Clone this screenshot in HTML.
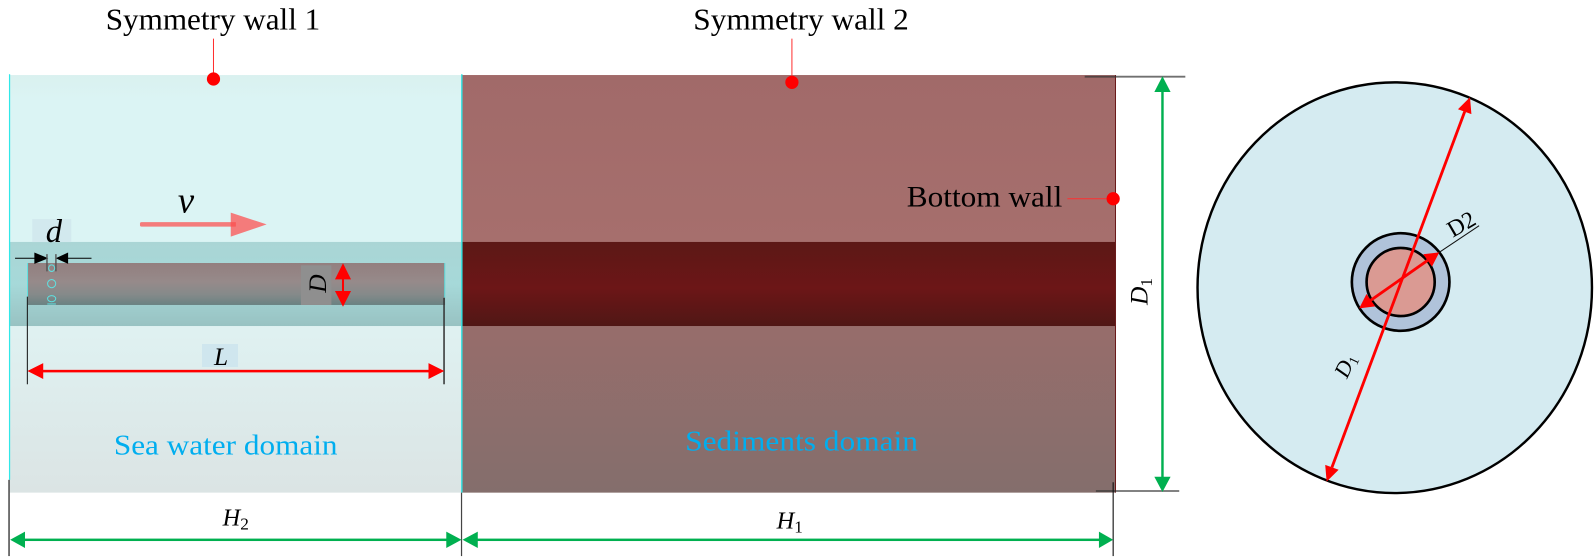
<!DOCTYPE html>
<html><head><meta charset="utf-8"><style>
html,body{margin:0;padding:0;background:#fff;width:1594px;height:557px;overflow:hidden}
svg{display:block;font-family:"Liberation Serif",serif}
</style></head><body>
<svg width="1594" height="557" viewBox="0 0 1568 547.9" xmlns="http://www.w3.org/2000/svg">
<defs>
<linearGradient id="sea" x1="0" y1="0" x2="0" y2="1"><stop offset="0" stop-color="#daf1ef"/><stop offset=".06" stop-color="#dbf4f4"/><stop offset=".4" stop-color="#dbf4f4"/><stop offset=".62" stop-color="#dff1f1"/><stop offset="1" stop-color="#dbe4e4"/></linearGradient>
<linearGradient id="seab" x1="0" y1="0" x2="0" y2="1"><stop offset="0" stop-color="#aad5d5"/><stop offset=".5" stop-color="#a6d9d9"/><stop offset="1" stop-color="#98c2c2"/></linearGradient>
<linearGradient id="pipe" x1="0" y1="0" x2="0" y2="1"><stop offset="0" stop-color="#937f7f"/><stop offset=".45" stop-color="#968a8a"/><stop offset=".75" stop-color="#858a8a"/><stop offset="1" stop-color="#6a8282"/></linearGradient>
<linearGradient id="sed" x1="0" y1="0" x2="0" y2="1"><stop offset="0" stop-color="#a16a69"/><stop offset=".4" stop-color="#a66f6d"/><stop offset=".6" stop-color="#976d6b"/><stop offset="1" stop-color="#846e6c"/></linearGradient>
<linearGradient id="core" x1="0" y1="0" x2="0" y2="1"><stop offset="0" stop-color="#5c1816"/><stop offset=".55" stop-color="#6c1617"/><stop offset="1" stop-color="#501715"/></linearGradient>
</defs>

<!-- sea water domain -->
<rect x="9.500" y="73.800" width="444.700" height="410.800" fill="url(#sea)"/>
<rect x="9.500" y="238" width="444.700" height="82.700" fill="url(#seab)"/>
<rect x="27.500" y="258.700" width="410.300" height="41.300" fill="url(#pipe)"/>
<rect x="8.800" y="73" width="1.200" height="399" fill="#30e8e8"/>
<rect x="26.600" y="258.700" width="1" height="33" fill="#5fe0e0"/>
<rect x="437" y="258.700" width="1" height="34" fill="#5fe0e0"/>

<!-- sediments domain -->
<rect x="454.500" y="73.800" width="642.800" height="410.800" fill="url(#sed)"/>
<rect x="454.500" y="238" width="642.800" height="82.700" fill="url(#core)"/>
<rect x="453.600" y="73" width="1.400" height="411.600" fill="#30e0e0"/>
<rect x="1096.800" y="73.800" width="1" height="410.800" fill="#6b1a1a"/>

<!-- extension lines -->
<path d="M1067 75.400H1166" stroke="#333" stroke-opacity=".7" stroke-width="1.800" fill="none"/>
<path d="M1078 483H1160" stroke="#333" stroke-opacity=".7" stroke-width="1.800" fill="none"/>
<path d="M8.900 472V547" stroke="#555" stroke-width="1.600" fill="none"/>
<path d="M454 484.600V547" stroke="#444" stroke-width="1.200" fill="none"/>
<path d="M1095 474.400V547" stroke="#111" stroke-width="1.100" fill="none"/>
<path d="M26.900 291.800V378" stroke="#111" stroke-width="1" fill="none"/>
<path d="M436.800 293V378" stroke="#333" stroke-width="1.500" fill="none"/>

<!-- green dimension arrows -->
<g fill="#00b050">
<rect x="1142.300" y="88" width="2.400" height="383"/>
<path d="M1143.500 75L1151.500 90.500H1135.500Z"/>
<path d="M1143.500 484L1135.500 469H1151.500Z"/>
<rect x="22" y="529.800" width="420" height="2.400"/>
<path d="M10 531L24.600 523V539Z"/>
<path d="M454 531L439 523V539Z"/>
<rect x="468" y="529.800" width="614" height="2.400"/>
<path d="M455 531L470 523V539Z"/>
<path d="M1095 531L1081 523V539Z"/>
</g>

<!-- label patches -->
<rect x="31.700" y="215.500" width="38.400" height="22.600" fill="#d2e9ee"/>
<rect x="296" y="261" width="30" height="39" fill="#8f8f8f"/>
<rect x="198.700" y="338.400" width="35.400" height="22.600" fill="#cfe6ee"/>

<!-- red dimension arrows -->
<g fill="#ff0000">
<rect x="38" y="363.800" width="388" height="2.500"/>
<path d="M27 365L42.500 357.200V372.800Z"/>
<path d="M437 365L421.500 357.200V372.800Z"/>
<rect x="336.400" y="270" width="2" height="20"/>
<path d="M337.400 259L345.300 274.800H329.500Z"/>
<path d="M337.400 301.700L329.500 286.300H345.300Z"/>
</g>

<!-- d marker -->
<path d="M14.800 254H38M62 254H90" stroke="#000" stroke-width="1"/>
<path d="M33.800 248.400L47.500 254 33.800 259.600ZM67 248.400L54.800 254 67 259.600Z" fill="#000"/>
<path d="M46.200 250V267M55 250V267" stroke="#555" stroke-width="1.400"/>
<g fill="none" stroke="#5fe0e0" stroke-width="1">
<ellipse cx="50.800" cy="263.800" rx="3" ry="3.200"/>
<ellipse cx="50.800" cy="279" rx="4" ry="4"/>
<ellipse cx="50.800" cy="293.800" rx="4" ry="3"/>
<path d="M46.500 299H55"/>
</g>

<!-- velocity arrow -->
<rect x="137.700" y="218.500" width="94.300" height="4.400" rx="1.500" fill="#f47b7b"/>
<path d="M227 209.200L262.300 220.700 227 232.800Z" fill="#f47b7b"/>
<rect x="227" y="218.500" width="5" height="4.400" fill="#f95a5a"/>

<!-- wall markers -->
<path d="M210 38V76" stroke="#ff3030" stroke-width="1"/>
<circle cx="210" cy="77.700" r="6.500" fill="#ff0000"/>
<path d="M779 38V80" stroke="#ff3030" stroke-width="1"/>
<circle cx="779" cy="81" r="6.500" fill="#ff0000"/>
<path d="M1050 195.500H1094" stroke="#ff3030" stroke-width="1"/>
<circle cx="1095" cy="195.500" r="6.500" fill="#ff0000"/>

<!-- circular section -->
<ellipse cx="1372" cy="283" rx="194" ry="202" fill="#d5ebf1" stroke="#000" stroke-width="2.400"/>
<circle cx="1377.800" cy="277.400" r="48" fill="#b0c3da" stroke="#000" stroke-width="2.600"/>
<circle cx="1377.800" cy="277.400" r="33.500" fill="#da9a93" stroke="#000" stroke-width="2.600"/>
<path d="M1440.800 109.800L1310.200 459.700" stroke="#ff0000" stroke-width="2.800" fill="none"/>
<path d="M1446 95.700L1447.400 112.200 1434.200 107.400Z" fill="#ff0000"/>
<path d="M1305 473.800L1316.800 462.100 1303.600 457.300Z" fill="#ff0000"/>
<path d="M1404.300 256.200L1348.500 295.300" stroke="#ff0000" stroke-width="2.800" fill="none"/>
<path d="M1415.800 248.200L1408.600 262.300 1400 250.100Z" fill="#ff0000"/>
<path d="M1337 303.300L1352.800 301.400 1344.200 289.200Z" fill="#ff0000"/>
<path d="M1415.800 248.200L1455 222" stroke="#111" stroke-width="1" fill="none"/>

<!-- labels -->
<g fill="#000">
<text x="104" y="29" font-size="30" textLength="211" lengthAdjust="spacingAndGlyphs">Symmetry wall 1</text>
<text x="682" y="29" font-size="30" textLength="212" lengthAdjust="spacingAndGlyphs">Symmetry wall 2</text>
<text x="892" y="203" font-size="29" textLength="153" lengthAdjust="spacingAndGlyphs">Bottom wall</text>
<text x="175" y="209" font-size="36" font-style="italic">v</text>
<text x="45" y="238" font-size="32" font-style="italic">d</text>
<text transform="translate(320.500 288) rotate(-90)" font-size="25" font-style="italic">D</text>
<text x="210.500" y="359" font-size="25" font-style="italic">L</text>
<text transform="translate(1129 300) rotate(-90)" font-size="25" font-style="italic">D<tspan font-size="17" dy="4" font-style="normal">1</tspan></text>
<text x="219" y="517" font-size="24" font-style="italic">H<tspan font-size="17" dy="4" font-style="normal">2</tspan></text>
<text x="764" y="520" font-size="24" font-style="italic">H<tspan font-size="17" dy="4" font-style="normal">1</tspan></text>
<text transform="translate(1325 373) rotate(-65)" font-size="22" font-style="italic">D<tspan font-size="14" dy="3" font-style="normal">1</tspan></text>
<text transform="translate(1429 234) rotate(-30)" font-size="23">D2</text>
</g>
<text x="112" y="447" font-size="28" fill="#00aeef" textLength="220" lengthAdjust="spacingAndGlyphs">Sea water domain</text>
<text x="674" y="443" font-size="28" fill="#00aeef" textLength="229" lengthAdjust="spacingAndGlyphs">Sediments domain</text>
</svg>
</body></html>
